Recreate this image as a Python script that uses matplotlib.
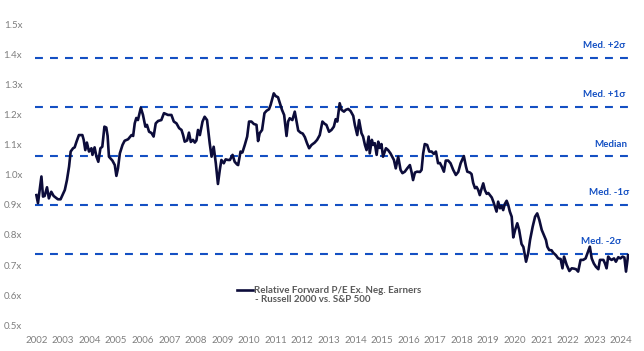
import matplotlib.pyplot as plt

# relative forward P/E (Russell 2000 vs S&P 500)
years = [2002.00, 2002.06, 2002.19, 2002.25, 2002.31, 2002.40, 2002.47, 2002.56, 2002.65, 2002.81,
         2002.91, 2003.07, 2003.15, 2003.23, 2003.29, 2003.38, 2003.44, 2003.51, 2003.60, 2003.73,
         2003.78, 2003.84, 2003.90, 2003.98, 2004.07, 2004.11, 2004.19, 2004.26, 2004.33, 2004.41,
         2004.48, 2004.56, 2004.63, 2004.68, 2004.73, 2004.86, 2004.95, 2005.01, 2005.07, 2005.14,
         2005.24, 2005.32, 2005.45, 2005.58, 2005.64, 2005.70, 2005.76, 2005.82, 2005.93, 2006.01,
         2006.10, 2006.16, 2006.24, 2006.33, 2006.41, 2006.49, 2006.58, 2006.70, 2006.80, 2006.95,
         2007.08, 2007.17, 2007.27, 2007.37, 2007.46, 2007.52, 2007.58, 2007.67, 2007.74, 2007.81,
         2007.89, 2007.96, 2008.02, 2008.08, 2008.15, 2008.25, 2008.33, 2008.42, 2008.52, 2008.59,
         2008.67, 2008.75, 2008.83, 2008.90, 2008.96, 2009.05, 2009.12, 2009.21, 2009.28, 2009.38,
         2009.46, 2009.55, 2009.59, 2009.68, 2009.75, 2009.84, 2009.93, 2010.00, 2010.09, 2010.18,
         2010.28, 2010.34, 2010.40, 2010.49, 2010.58, 2010.66, 2010.75, 2010.81, 2010.88, 2010.93,
         2011.00, 2011.09, 2011.16, 2011.24, 2011.32, 2011.41, 2011.47, 2011.53, 2011.63, 2011.72,
         2011.79, 2011.85, 2011.94, 2012.02, 2012.10, 2012.18, 2012.26, 2012.35, 2012.47, 2012.56,
         2012.66, 2012.76, 2012.85, 2012.91, 2013.01, 2013.10, 2013.19, 2013.26, 2013.32, 2013.41,
         2013.48, 2013.57, 2013.64, 2013.73, 2013.82, 2013.92, 2013.98, 2014.07, 2014.14, 2014.23,
         2014.29, 2014.36, 2014.42, 2014.50, 2014.54, 2014.62, 2014.67, 2014.73, 2014.80, 2014.86,
         2014.92, 2014.98, 2015.04, 2015.15, 2015.23, 2015.32, 2015.45, 2015.52, 2015.61, 2015.70,
         2015.77, 2015.86, 2015.95, 2016.05, 2016.11, 2016.17, 2016.24, 2016.32, 2016.43, 2016.49,
         2016.55, 2016.61, 2016.70, 2016.78, 2016.87, 2016.95, 2017.03, 2017.11, 2017.18, 2017.25,
         2017.33, 2017.40, 2017.49, 2017.58, 2017.68, 2017.78, 2017.87, 2017.96, 2018.08, 2018.16,
         2018.21, 2018.31, 2018.37, 2018.43, 2018.50, 2018.56, 2018.62, 2018.68, 2018.75, 2018.81,
         2018.87, 2018.94, 2019.00, 2019.06, 2019.13, 2019.19, 2019.25, 2019.31, 2019.37, 2019.44,
         2019.50, 2019.56, 2019.62, 2019.69, 2019.75, 2019.81, 2019.88, 2019.94, 2020.01, 2020.09,
         2020.16, 2020.25, 2020.32, 2020.42, 2020.50, 2020.57, 2020.67, 2020.76, 2020.84, 2020.92,
         2021.01, 2021.09, 2021.17, 2021.22, 2021.29, 2021.38, 2021.44, 2021.54, 2021.63, 2021.72,
         2021.79, 2021.85, 2021.95, 2022.05, 2022.14, 2022.22, 2022.30, 2022.38, 2022.47, 2022.57,
         2022.66, 2022.74, 2022.82, 2022.89, 2022.97, 2023.05, 2023.14, 2023.20, 2023.33, 2023.39,
         2023.45, 2023.51, 2023.58, 2023.64, 2023.73, 2023.80, 2023.89, 2023.97, 2024.05, 2024.12,
         2024.18, 2024.26]
rel_pe = [0.933, 0.906, 0.995, 0.928, 0.930, 0.959, 0.922, 0.944, 0.930, 0.919,
          0.919, 0.950, 0.983, 1.028, 1.078, 1.089, 1.092, 1.111, 1.133, 1.133,
          1.117, 1.083, 1.108, 1.078, 1.089, 1.067, 1.092, 1.061, 1.044, 1.089,
          1.094, 1.161, 1.158, 1.130, 1.061, 1.048, 1.033, 0.997, 1.022, 1.072,
          1.100, 1.114, 1.119, 1.133, 1.130, 1.172, 1.190, 1.183, 1.224, 1.200,
          1.161, 1.167, 1.144, 1.140, 1.128, 1.172, 1.180, 1.183, 1.206, 1.200,
          1.200, 1.178, 1.172, 1.156, 1.150, 1.133, 1.111, 1.115, 1.141, 1.110,
          1.117, 1.108, 1.115, 1.150, 1.133, 1.178, 1.194, 1.183, 1.106, 1.061,
          1.094, 1.039, 0.970, 1.017, 1.050, 1.039, 1.052, 1.050, 1.050, 1.067,
          1.044, 1.035, 1.033, 1.078, 1.075, 1.100, 1.128, 1.178, 1.178, 1.170,
          1.167, 1.113, 1.139, 1.150, 1.206, 1.214, 1.219, 1.233, 1.256, 1.272,
          1.263, 1.259, 1.239, 1.217, 1.200, 1.130, 1.178, 1.189, 1.183, 1.211,
          1.178, 1.148, 1.141, 1.138, 1.126, 1.106, 1.089, 1.100, 1.108, 1.117,
          1.133, 1.178, 1.170, 1.167, 1.144, 1.150, 1.161, 1.186, 1.178, 1.239,
          1.217, 1.211, 1.217, 1.220, 1.213, 1.197, 1.167, 1.133, 1.183, 1.139,
          1.128, 1.100, 1.083, 1.128, 1.072, 1.117, 1.100, 1.106, 1.067, 1.111,
          1.090, 1.103, 1.061, 1.089, 1.083, 1.072, 1.050, 1.022, 1.061, 1.017,
          1.006, 1.011, 1.022, 1.033, 1.011, 0.983, 1.008, 1.011, 1.010, 1.017,
          1.072, 1.103, 1.100, 1.078, 1.078, 1.070, 1.078, 1.039, 1.040, 1.028,
          1.011, 1.048, 1.048, 1.039, 1.017, 1.000, 1.010, 1.039, 1.063, 1.028,
          1.011, 1.008, 1.003, 0.974, 0.956, 0.960, 0.950, 0.933, 0.955, 0.972,
          0.950, 0.937, 0.940, 0.933, 0.925, 0.911, 0.894, 0.878, 0.911, 0.889,
          0.897, 0.883, 0.903, 0.914, 0.900, 0.878, 0.861, 0.792, 0.817, 0.839,
          0.817, 0.770, 0.760, 0.711, 0.739, 0.783, 0.828, 0.861, 0.872, 0.850,
          0.817, 0.800, 0.783, 0.761, 0.750, 0.749, 0.741, 0.733, 0.722, 0.720,
          0.689, 0.728, 0.700, 0.680, 0.689, 0.688, 0.686, 0.678, 0.717, 0.717,
          0.722, 0.741, 0.761, 0.722, 0.705, 0.694, 0.686, 0.717, 0.717, 0.705,
          0.689, 0.728, 0.720, 0.717, 0.722, 0.711, 0.726, 0.722, 0.728, 0.725,
          0.678, 0.733]

# median and sigma bands
band_values = [1.390, 1.227, 1.063, 0.900, 0.737]
band_labels = ['Med. +2σ', 'Med. +1σ', 'Median', 'Med. -1σ', 'Med. -2σ']

year_ticks = list(range(2002, 2025))
y_ticks = [0.5, 0.6, 0.7, 0.8, 0.9, 1.0, 1.1, 1.2, 1.3, 1.4, 1.5]

fam = ['Lato', 'DejaVu Sans']
plt.rcParams['font.family'] = fam
grey = '#7f7f7f'
blue = '#1450c3'

fig = plt.figure(figsize=(6.44, 3.51), dpi=100)
ax = fig.add_axes([0.054, 0.074, 0.923, 0.855])

# right end of each band label (a bit left for the -2 sigma one)
label_right = [2024.15, 2024.15, 2024.22, 2024.3, 2024.0]
for v, lab, xr in zip(band_values, band_labels, label_right):
    ax.axhline(v, color=blue, lw=1.5, dashes=(3.8, 3.4))
    ax.text(xr, v + 0.04, lab, color=blue, fontsize=7, fontweight='bold',
            ha='right', va='center', family=fam)

ax.plot(years, rel_pe, color='#0c0c3a', lw=1.9,
        label='Relative Forward P/E Ex. Neg. Earners')

leg = ax.legend(loc='upper left', bbox_to_anchor=(0.332, 0.145), frameon=False,
                handlelength=1.6, handletextpad=0.1, borderpad=0,
                prop={'size': 7, 'weight': 'bold', 'family': fam})
for t in leg.get_texts():
    t.set_color('#595959')
ax.text(0.37, 0.085, '- Russell 2000 vs. S&P 500', transform=ax.transAxes,
        fontsize=7, fontweight='bold', color='#595959', va='center', family=fam)

ax.set_xlim(2001.94, 2024.3)
ax.set_ylim(0.5, 1.5)
ax.set_xticks(year_ticks)
ax.set_xticklabels([str(y) for y in year_ticks])
ax.set_yticks(y_ticks)
ax.set_yticklabels(['%.1fx' % y for y in y_ticks])
ax.tick_params(length=0, labelsize=7, colors=grey)
ax.tick_params(axis='x', pad=8)
ax.tick_params(axis='y', pad=9)
for s in ax.spines.values():
    s.set_visible(False)

plt.savefig('out.png', dpi=100)
